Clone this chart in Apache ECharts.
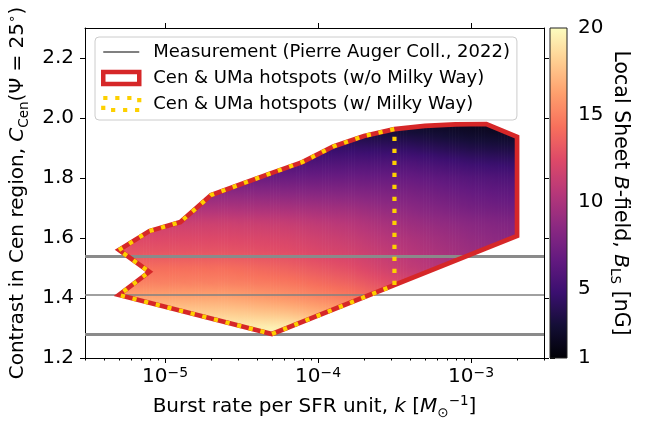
<!DOCTYPE html>
<html><head><meta charset="utf-8">
<script src="https://cdn.jsdelivr.net/npm/echarts@6/dist/echarts.min.js"></script>
<style>html,body{margin:0;padding:0;background:#fff}#c{width:663px;height:428px}</style>
</head><body><div id="c"></div>
<script>
// ---------------- data ----------------
const measurementCentral = 1.41;
const measurementBand = [1.28, 1.54];

// Cen & UMa hotspots region (w/o Milky Way): boundary vertices
const hotspotK = [5e-6, 7.9e-6, 1.26e-5, 2e-5, 3.16e-5, 5e-5, 7.9e-5, 1.26e-4, 2e-4, 3.16e-4, 5e-4, 7.9e-4, 1.26e-3, 2e-3, 2e-3, 5e-5, 5e-6, 7.9e-6];
const hotspotC = [1.56, 1.623, 1.653, 1.743, 1.78, 1.817, 1.853, 1.905, 1.94, 1.963, 1.974, 1.979, 1.98, 1.937, 1.607, 1.28, 1.41, 1.487];
// Cen & UMa hotspots region (w/ Milky Way)
const hotspotMWK = [5e-6, 7.9e-6, 1.26e-5, 2e-5, 3.16e-5, 5e-5, 7.9e-5, 1.26e-4, 2e-4, 3.16e-4, 3.16e-4, 5e-5, 5e-6, 7.9e-6];
const hotspotMWC = [1.56, 1.623, 1.653, 1.743, 1.78, 1.817, 1.853, 1.905, 1.94, 1.963, 1.443, 1.28, 1.41, 1.487];

// Local Sheet B-field [nG] read on a grid (columns: k, rows: contrast)
const fieldK = [4e-6, 2.5e-5, 6.3e-5, 1.6e-4, 4e-4, 1e-3, 2.5e-3];
const fieldC = [1.25, 1.30, 1.35, 1.40, 1.45, 1.50, 1.55, 1.60, 1.65, 1.70, 1.75, 1.80, 1.85, 1.90, 1.95, 2.00];
const fieldB_k4e6   = [20, 19.5, 18.0, 16.5, 15.0, 14.2, 13.0, 12.3, 11.5, 10.0, 8.6, 7.0, 5.7, 4.6, 3.4, 2.5];
const fieldB_k2_5e5 = [20, 19.5, 18.0, 16.5, 15.0, 14.2, 13.0, 12.3, 11.5, 10.0, 8.6, 7.0, 5.7, 4.6, 3.4, 2.5];
const fieldB_k6_3e5 = [20, 19.5, 17.5, 15.8, 14.6, 13.6, 12.6, 12.0, 11.2, 9.8, 8.4, 7.0, 5.7, 4.5, 3.3, 2.4];
const fieldB_k1_6e4 = [19, 18.0, 16.3, 14.8, 13.6, 12.6, 11.8, 11.2, 10.5, 9.4, 8.2, 7.0, 5.8, 4.5, 3.2, 2.3];
const fieldB_k4e4   = [17, 15.5, 14.0, 13.0, 12.0, 11.0, 10.5, 10.0, 9.3, 8.5, 7.7, 6.8, 5.7, 4.3, 3.0, 2.2];
const fieldB_k1e3   = [15, 13.5, 12.3, 11.2, 10.5, 9.8, 9.3, 8.9, 8.4, 7.5, 6.8, 6.0, 4.8, 3.5, 2.4, 1.8];
const fieldB_k2_5e3 = [13, 12.0, 11.0, 10.2, 9.6, 9.0, 8.6, 8.2, 7.8, 7.0, 6.3, 5.5, 4.4, 3.2, 2.1, 1.5];
const fieldB = [fieldB_k4e6, fieldB_k2_5e5, fieldB_k6_3e5, fieldB_k1_6e4, fieldB_k4e4, fieldB_k1e3, fieldB_k2_5e3];

// axes
const xRange = [3e-6, 3e-3];
const yRange = [1.2, 2.3];
const xTickK = [1e-5, 1e-4, 1e-3];
const yTicks = [1.2, 1.4, 1.6, 1.8, 2.0, 2.2];
const cbarRange = [1, 20];
const cbarTicks = [1, 5, 10, 15, 20];

const NAME_MEAS = 'Measurement (Pierre Auger Coll., 2022)';
const NAME_NOMW = 'Cen & UMa hotspots (w/o Milky Way)';
const NAME_MW = 'Cen & UMa hotspots (w/ Milky Way)';

// ---------------- helpers ----------------
const FONT = 'DejaVu Sans';
const FS = 20;
const lg = Math.log10;
const magma = ['#000004','#140e36','#3b0f70','#641a80','#8c2981','#b73779','#de4968','#f7705c','#fe9f6d','#fecf92','#fcfdbf'];
const magmaRGB = magma.map(h => [parseInt(h.slice(1,3),16), parseInt(h.slice(3,5),16), parseInt(h.slice(5,7),16)]);
function colorFor(b) {
  let t = (b - cbarRange[0]) / (cbarRange[1] - cbarRange[0]);
  t = Math.max(0, Math.min(1, t)) * (magma.length - 1);
  const i = Math.min(magma.length - 2, Math.floor(t)), f = t - i;
  const a = magmaRGB[i], c = magmaRGB[i + 1];
  return 'rgb(' + [0,1,2].map(k => Math.round(a[k] + (c[k] - a[k]) * f)).join(',') + ')';
}
const polyX = hotspotK.map(lg), polyY = hotspotC;
const fX = fieldK.map(lg);
function intervalsAt(x) {
  const ys = [], n = polyX.length;
  for (let i = 0; i < n; i++) {
    const j = (i + 1) % n, x1 = polyX[i], x2 = polyX[j];
    if ((x1 <= x && x < x2) || (x2 <= x && x < x1)) {
      const t = (x - x1) / (x2 - x1);
      ys.push(polyY[i] + t * (polyY[j] - polyY[i]));
    }
  }
  ys.sort((a, b) => a - b);
  const out = [];
  for (let i = 0; i + 1 < ys.length; i += 2) out.push([ys[i], ys[i + 1]]);
  return out;
}
function fieldAt(x, c) {
  let i = 0; while (i < fX.length - 2 && x > fX[i + 1]) i++;
  let tx = (x - fX[i]) / (fX[i + 1] - fX[i]); tx = Math.max(0, Math.min(1, tx));
  let j = 0; while (j < fieldC.length - 2 && c > fieldC[j + 1]) j++;
  let ty = (c - fieldC[j]) / (fieldC[j + 1] - fieldC[j]); ty = Math.max(0, Math.min(1, ty));
  const v00 = fieldB[i][j], v01 = fieldB[i][j + 1], v10 = fieldB[i + 1][j], v11 = fieldB[i + 1][j + 1];
  return (1 - tx) * ((1 - ty) * v00 + ty * v01) + tx * ((1 - ty) * v10 + ty * v11);
}

function renderField(params, api) {
  const children = [];
  const x0 = Math.min(...polyX), x1 = Math.max(...polyX);
  const step = 0.01;
  for (let x = x0; x < x1 - 1e-9; x += step) {
    const xa = x, xb = Math.min(x + step, x1), xm = (xa + xb) / 2;
    for (const [c0, c1] of intervalsAt(xm)) {
      const pa = api.coord([xa, c1]), pb = api.coord([xb, c0]);
      const nS = Math.max(2, Math.ceil((c1 - c0) / 0.02) + 1);
      const stops = [];
      for (let s = 0; s < nS; s++) {
        const f = s / (nS - 1);
        stops.push({offset: f, color: colorFor(fieldAt(xm, c1 - f * (c1 - c0)))});
      }
      children.push({type: 'rect',
        shape: {x: pa[0] - 0.35, y: pa[1], width: pb[0] - pa[0] + 0.7, height: pb[1] - pa[1]},
        style: {fill: {type: 'linear', x: 0, y: 0, x2: 0, y2: 1, colorStops: stops}}});
    }
  }
  return {type: 'group', children};
}
function polygonRenderer(ks, cs, style) {
  return function (params, api) {
    const pts = ks.map((k, i) => api.coord([lg(k), cs[i]]));
    return {type: 'polygon', shape: {points: pts}, style: style};
  };
}
function renderCbar(params, api) {
  const pa = api.coord([0, cbarRange[1]]), pb = api.coord([1, cbarRange[0]]);
  const stops = [];
  for (let s = 0; s <= 40; s++) {
    const f = s / 40;
    stops.push({offset: f, color: colorFor(cbarRange[1] - f * (cbarRange[1] - cbarRange[0]))});
  }
  return {type: 'rect', shape: {x: pa[0], y: pa[1], width: pb[0] - pa[0], height: pb[1] - pa[1]},
    style: {fill: {type: 'linear', x: 0, y: 0, x2: 0, y2: 1, colorStops: stops}, stroke: '#222', lineWidth: 1}};
}

const minorK = [];
for (let e = -6; e <= -3; e++) for (let m = 2; m <= 9; m++) {
  const v = lg(m) + e;
  if (v >= lg(xRange[0]) - 1e-6 && v <= lg(xRange[1]) + 1e-6) minorK.push(v);
}

const tickStyle = {color: '#000', width: 1};
const baseX = {type: 'value', gridIndex: 0, min: lg(xRange[0]), max: lg(xRange[1]), splitLine: {show: false}};
const baseY = {type: 'value', gridIndex: 0, min: yRange[0], max: yRange[1], splitLine: {show: false}};
const richName = {
  i: {fontSize: FS, fontFamily: FONT, fontStyle: 'italic', color: '#000', lineHeight: 26},
  sub: {fontSize: 13.5, fontFamily: FONT, color: '#000', lineHeight: 13, verticalAlign: 'bottom'},
  sup: {fontSize: 13.5, fontFamily: FONT, color: '#000', lineHeight: 13, verticalAlign: 'top'}
};

const option = {
  animation: false,
  backgroundColor: '#fff',
  grid: [
    {left: 85, top: 28, width: 459, height: 330, outerBoundsMode: 'none', containLabel: false},
    {left: 550, top: 28, width: 17, height: 330, outerBoundsMode: 'none', containLabel: false}
  ],
  xAxis: [
    Object.assign({}, baseX, {
      position: 'bottom',
      axisLine: {show: true, onZero: false, lineStyle: tickStyle},
      axisTick: {show: true, customValues: xTickK.map(lg), length: 5, lineStyle: tickStyle},
      axisLabel: {customValues: xTickK.map(lg), margin: 8,
        formatter: v => '{b|10}{s|\u2212' + Math.round(-v) + '}',
        rich: {b: {fontSize: FS, fontFamily: FONT, color: '#000', lineHeight: 22},
               s: {fontSize: 14, fontFamily: FONT, color: '#000', lineHeight: 14, verticalAlign: 'top'}}},
      name: 'Burst rate per SFR unit, {i|k} [{i|M}{sub|\u2299}{sup|\u22121}]',
      nameLocation: 'middle', nameGap: 36,
      nameTextStyle: {fontSize: FS, fontFamily: FONT, color: '#000', lineHeight: 26, rich: richName}
    }),
    Object.assign({}, baseX, {
      position: 'bottom',
      axisLine: {show: false, onZero: false},
      axisTick: {show: true, customValues: minorK, length: 2.5, lineStyle: tickStyle},
      axisLabel: {show: false}
    }),
    Object.assign({}, baseX, {
      position: 'top',
      axisLine: {show: true, onZero: false, lineStyle: tickStyle},
      axisTick: {show: true, customValues: xTickK.map(lg), length: 5, lineStyle: tickStyle},
      axisLabel: {show: false}
    }),
    {type: 'value', gridIndex: 1, min: 0, max: 1, show: false}
  ],
  yAxis: [
    Object.assign({}, baseY, {
      position: 'left',
      axisLine: {show: true, onZero: false, lineStyle: tickStyle},
      axisTick: {show: true, customValues: yTicks, length: 5, lineStyle: tickStyle},
      axisLabel: {customValues: yTicks, margin: 11, formatter: v => v.toFixed(1),
        fontSize: FS, fontFamily: FONT, color: '#000'},
      name: 'Contrast in Cen region, {i|C}{sub|Cen}(\u03A8 = 25{sup|\u2218})',
      nameLocation: 'middle', nameGap: 44, nameRotate: 90,
      nameTextStyle: {fontSize: FS, fontFamily: FONT, color: '#000', lineHeight: 26, rich: richName}
    }),
    Object.assign({}, baseY, {
      position: 'right',
      axisLine: {show: true, onZero: false, lineStyle: tickStyle},
      axisTick: {show: true, customValues: yTicks, length: 5, lineStyle: tickStyle},
      axisLabel: {show: false}
    }),
    {
      type: 'value', gridIndex: 1, position: 'right', min: cbarRange[0], max: cbarRange[1],
      splitLine: {show: false},
      axisLine: {show: false},
      axisTick: {show: true, customValues: cbarTicks, length: 5, lineStyle: tickStyle},
      axisLabel: {customValues: cbarTicks, margin: 11, fontSize: FS, fontFamily: FONT, color: '#000'},
      name: 'Local Sheet {i|B}-field, {i|B}{sub|LS} [nG]',
      nameLocation: 'middle', nameGap: 40, nameRotate: -90,
      nameTextStyle: {fontSize: FS + 0.5, fontFamily: FONT, color: '#000', lineHeight: 26, rich: richName}
    }
  ],
  legend: {
    left: 95, top: 37, orient: 'vertical', align: 'left',
    padding: [5, 7, 6, 6], itemGap: 6, itemWidth: 36, itemHeight: 12,
    backgroundColor: 'rgba(255,255,255,0.85)', borderColor: '#cccccc', borderWidth: 1, borderRadius: 4,
    textStyle: {fontSize: 18, fontFamily: FONT, color: '#000', lineHeight: 20, padding: [0, 0, 0, 9]},
    data: [
      {name: NAME_MEAS, itemStyle: {color: 'rgba(0,0,0,0)', borderWidth: 0, opacity: 0}},
      {name: NAME_NOMW, icon: 'rect', itemStyle: {color: '#ffffff', borderColor: '#d62728', borderWidth: 4.5}},
      {name: NAME_MW, icon: 'rect', itemStyle: {color: 'rgba(255,255,255,0)', borderColor: '#fdd000', borderWidth: 4.2, borderType: [4.2, 7.8]}}
    ]
  },
  series: [
    {type: 'custom', name: 'field', xAxisIndex: 0, yAxisIndex: 0, z: 1, silent: true, clip: true,
     renderItem: renderField, data: [[polyX[0], polyY[0]]]},
    {type: 'line', name: NAME_MEAS, xAxisIndex: 0, yAxisIndex: 0, z: 3, symbol: 'none', data: [],
     itemStyle: {color: '#808080'},
     lineStyle: {color: '#808080', width: 1.5},
     markLine: {silent: true, symbol: 'none', label: {show: false}, z: 3,
       data: [
         {yAxis: measurementCentral, lineStyle: {color: '#808080', width: 1.5, type: 'solid'}},
         {yAxis: measurementBand[0], lineStyle: {color: '#8a8a8a', width: 3, type: 'solid'}},
         {yAxis: measurementBand[1], lineStyle: {color: '#8a8a8a', width: 3, type: 'solid'}}
       ]}},
    {type: 'custom', name: NAME_NOMW, xAxisIndex: 0, yAxisIndex: 0, z: 5, silent: true, clip: false,
     itemStyle: {color: '#d62728'},
     renderItem: polygonRenderer(hotspotK, hotspotC, {fill: 'none', stroke: '#d62728', lineWidth: 4.7, lineJoin: 'miter'}),
     data: [[polyX[0], polyY[0]]]},
    {type: 'custom', name: NAME_MW, xAxisIndex: 0, yAxisIndex: 0, z: 6, silent: true, clip: false,
     itemStyle: {color: '#fdd000'},
     renderItem: polygonRenderer(hotspotMWK, hotspotMWC, {fill: 'none', stroke: '#fdd000', lineWidth: 4.2, lineDash: [4.2, 7.8], lineJoin: 'miter'}),
     data: [[polyX[0], polyY[0]]]},
    {type: 'custom', name: 'colorbar', xAxisIndex: 3, yAxisIndex: 2, z: 2, silent: true,
     renderItem: renderCbar, data: [[0, cbarRange[0]]]}
  ]
};
const chart = echarts.init(document.getElementById('c'), null, {renderer: 'canvas', width: 663, height: 428});
chart.setOption(option);
</script>
</body></html>
